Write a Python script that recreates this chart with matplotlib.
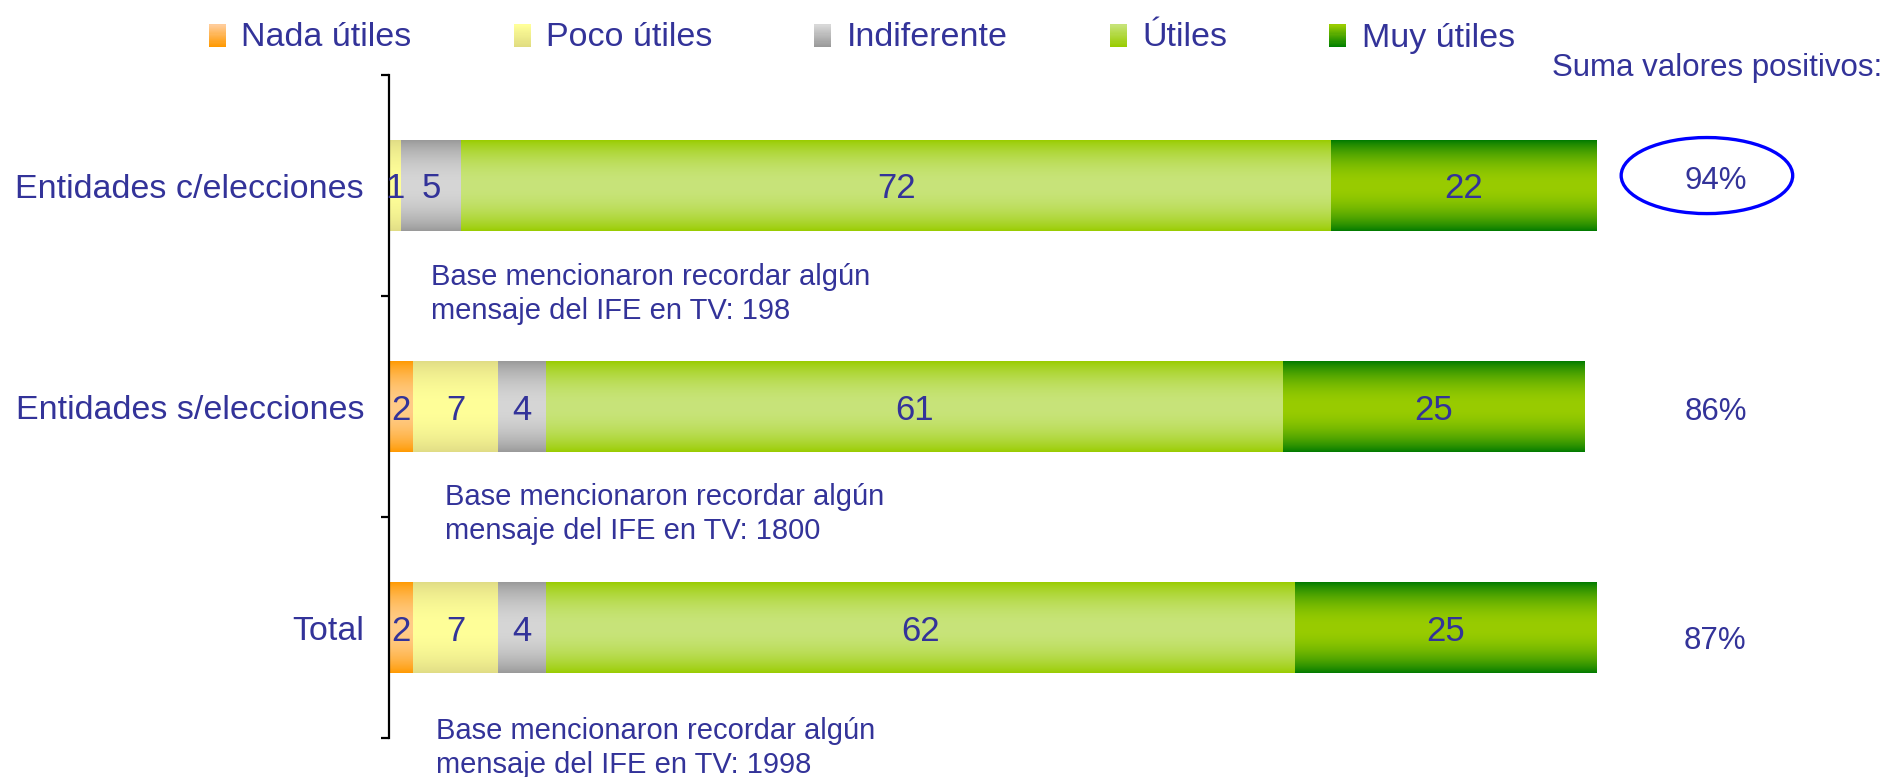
import numpy as np
import matplotlib
matplotlib.use("Agg")
import matplotlib.pyplot as plt
from matplotlib.colors import to_rgb
from matplotlib.patches import Rectangle, Ellipse

plt.rcParams['font.family'] = ['Liberation Sans', 'DejaVu Sans']

# data
categories = ['Entidades c/elecciones', 'Entidades s/elecciones', 'Total']
series = ['Nada útiles', 'Poco útiles', 'Indiferente', 'Útiles', 'Muy útiles']
nada = [0, 2, 2]
poco = [1, 7, 7]
indiferente = [5, 4, 4]
utiles = [72, 61, 62]
muy_utiles = [22, 25, 25]
positivos = [94, 86, 87]
bases = [198, 1800, 1998]

# (edge colour, centre colour) for the cylinder-like gradient
grad_colors = [('#FF9900', '#FFCC88'),
               ('#E0DC85', '#FFFF99'),
               ('#999999', '#D6D6D6'),
               ('#99CC00', '#C8E47A'),
               ('#007A00', '#99CC00')]
txt_color = '#333399'


def gradient_rgb(edge, centre, n=200):
    s = np.linspace(0, 1, n)
    p = np.sin(np.pi * s) ** 0.8
    e, c = np.array(to_rgb(edge)), np.array(to_rgb(centre))
    rgb = e[None, :] * (1 - p[:, None]) + c[None, :] * p[:, None]
    return rgb[:, None, :]


class GradientHandler:
    def __init__(self, top, bottom):
        self.top, self.bottom = to_rgb(top), to_rgb(bottom)

    def legend_artist(self, legend, orig_handle, fontsize, handlebox):
        x0, y0 = handlebox.xdescent, handlebox.ydescent
        w, h = handlebox.width, handlebox.height
        n = 20
        art = None
        for i in range(n):
            t = i / (n - 1)
            col = tuple(np.array(self.bottom) * (1 - t) + np.array(self.top) * t)
            art = Rectangle((x0, y0 + i * h / n), w, h / n + 0.5,
                            facecolor=col, lw=0)
            handlebox.add_artist(art)
        return art


fig = plt.figure(figsize=(18.88, 7.77), dpi=100)
ax = fig.add_axes([389 / 1888, 0.050, 1208 / 1888, 0.8535])

data = np.array([nada, poco, indiferente, utiles, muy_utiles])
y = np.arange(len(categories)) + 0.5
left = np.zeros(len(categories))
for vals, (edge, centre) in zip(data, grad_colors):
    cont = ax.barh(y, vals, left=left, height=0.41, facecolor='none',
                   edgecolor='none')
    for patch in cont.patches:
        x0, y0 = patch.get_x(), patch.get_y()
        w, h = patch.get_width(), patch.get_height()
        if w <= 0:
            continue
        ax.imshow(gradient_rgb(edge, centre), extent=(x0, x0 + w, y0, y0 + h),
                  aspect='auto', interpolation='bilinear', zorder=1)
    labels = [str(v) if v > 0 else '' for v in vals]
    anns = ax.bar_label(cont, labels=labels, label_type='center', fontsize=25,
                        color=txt_color, zorder=3)
    for a in anns:
        a.xyann = (0, -2.5)
    left += vals

ax.set_xlim(0, 100)
ax.set_ylim(3, 0)

for side in ['top', 'right', 'bottom']:
    ax.spines[side].set_visible(False)
ax.spines['left'].set_linewidth(1.6)
ax.set_xticks([])
ax.set_yticks([0, 1, 2, 3])
ax.set_yticklabels([])
ax.tick_params(axis='y', which='major', direction='out', length=6, width=1.6)
ax.set_yticks(y, categories, minor=True)
ax.tick_params(axis='y', which='minor', length=0, pad=18, labelsize=24.5,
               labelcolor=txt_color)

# base notes under each bar
note_pos = [(3.5, 0.99), (4.6, 1.985), (3.9, 3.045)]
for (nx, ny), b in zip(note_pos, bases):
    ax.text(nx, ny, 'Base mencionaron recordar algún\nmensaje del IFE en TV: %d' % b,
            fontsize=21, color=txt_color, ha='left', va='center',
            linespacing=1.25, clip_on=False)

# sum of positive values
pct_y = [0.48, 1.523, 2.562]
for py, v in zip(pct_y, positivos):
    ax.text(109.8, py, '%d%%' % v, fontsize=22.5, color=txt_color,
            ha='center', va='center', clip_on=False)
ax.add_patch(Ellipse((109.1, 0.455), 14.2, 0.344, fill=False,
                     edgecolor='#0000FF', lw=2.4, clip_on=False))
fig.text(1882 / 1888, 1 - 68 / 777, 'Suma valores positivos:', fontsize=22.5,
         color=txt_color, ha='right', va='center')

# legend
handles = [Rectangle((0, 0), 1, 1) for _ in series]
leg_cols = [('#FFCC99', '#FF9900'), ('#FFFF99', '#E0DC80'),
            ('#D8D8D8', '#999999'), ('#C6E377', '#99CC00'),
            ('#99CC00', '#008000')]
hmap = {h: GradientHandler(t, b) for h, (t, b) in zip(handles, leg_cols)}
fig.legend(handles, series, handler_map=hmap, loc='center left',
           bbox_to_anchor=(209 / 1888, 1 - 38 / 777), ncol=5, frameon=False,
           fontsize=24.5, labelcolor=txt_color, borderpad=0, borderaxespad=0,
           handlelength=0.5, handleheight=0.65, handletextpad=0.45,
           columnspacing=3.0)

fig.savefig('out.png', dpi=100)
